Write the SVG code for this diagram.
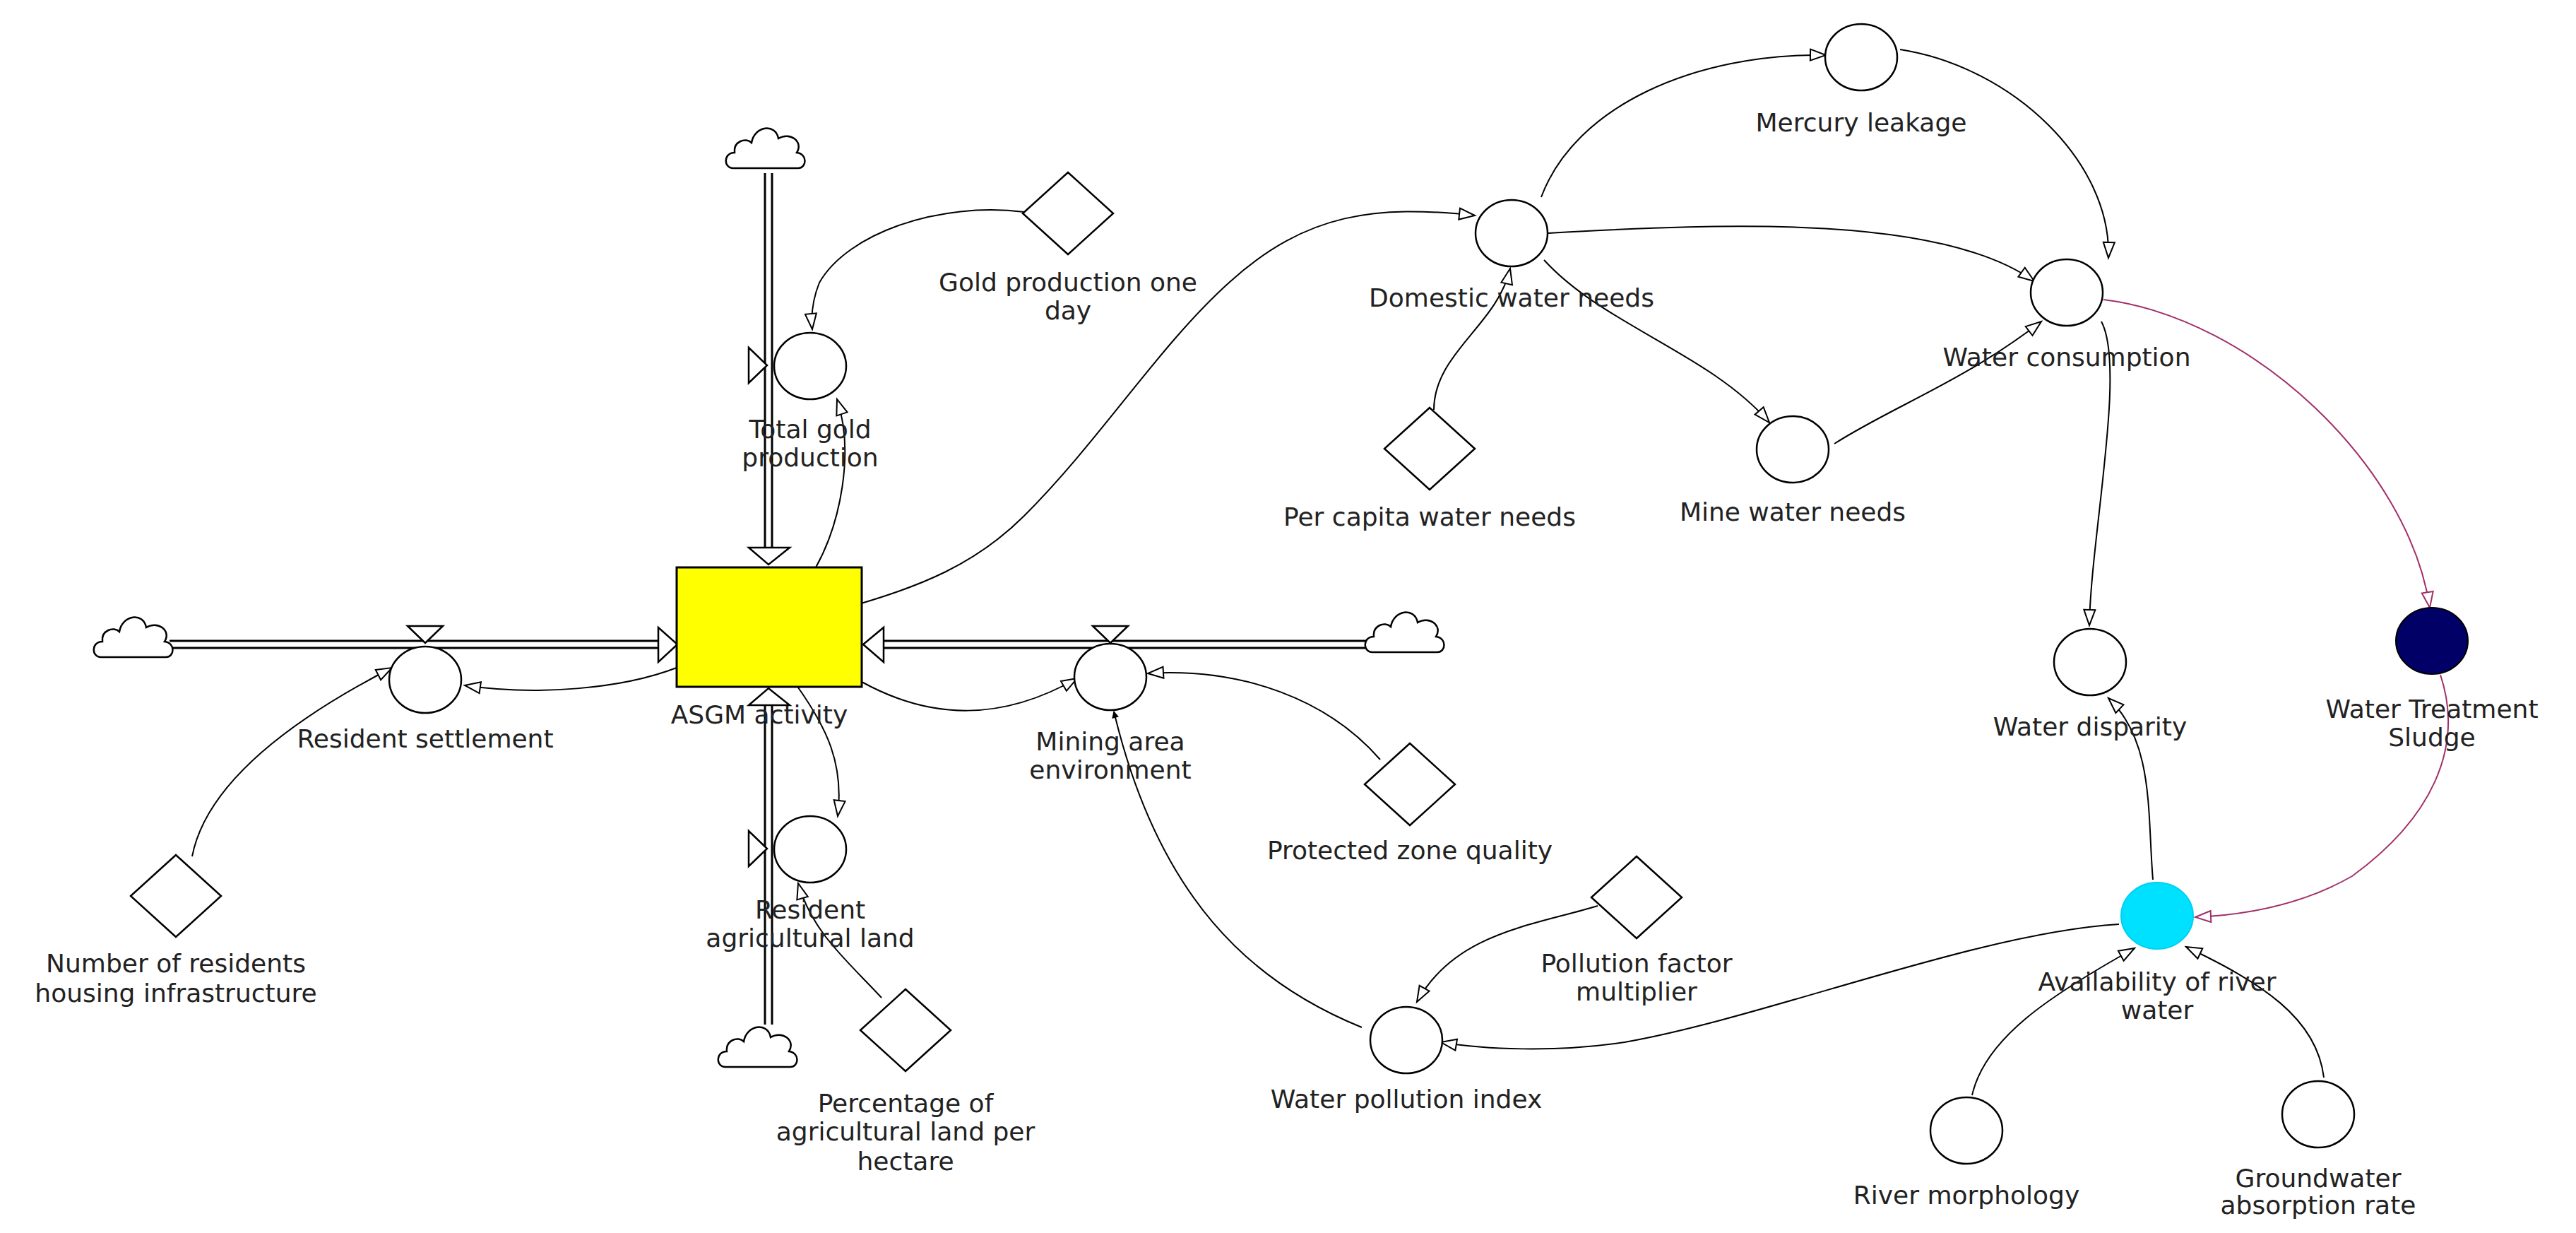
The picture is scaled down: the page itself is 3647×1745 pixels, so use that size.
<svg xmlns="http://www.w3.org/2000/svg" width="3647" height="1745" viewBox="0 0 3647 1745">
<style>
text{font-family:"DejaVu Sans","Verdana",sans-serif;font-size:36px;fill:#222;text-anchor:middle}
.aux{fill:#fff;stroke:#000;stroke-width:2.5}
.con{fill:none;stroke:#000;stroke-width:2}
.pk{fill:none;stroke:#a0306a;stroke-width:2}
.pipeo{stroke:#000;stroke-width:13;fill:none}
.pipei{stroke:#fff;stroke-width:7;fill:none}
.tri{fill:#fff;stroke:#000;stroke-width:2.5}
</style>
<defs>
<marker id="a" markerUnits="userSpaceOnUse" markerWidth="30" markerHeight="24" refX="24" refY="10" orient="auto"><path d="M2,2 L24,10 L2,18 Z" fill="#fff" stroke="#000" stroke-width="2"/></marker>
<marker id="ap" markerUnits="userSpaceOnUse" markerWidth="30" markerHeight="24" refX="24" refY="10" orient="auto"><path d="M2,2 L24,10 L2,18 Z" fill="#fff" stroke="#a0306a" stroke-width="2"/></marker>
<marker id="f" markerUnits="userSpaceOnUse" markerWidth="16" markerHeight="16" refX="10" refY="7" orient="auto"><path d="M1,2 L11,7 L1,12 Z" fill="#000"/></marker>
<symbol id="cloud" viewBox="-60 -40 120 75" overflow="visible"><path d="M-48,28 C-62,28 -62,6 -46,6 C-48,-10 -30,-16 -22,-8 C-18,-32 12,-36 16,-14 C32,-24 52,-10 42,6 C58,8 56,28 44,28 Z" fill="#fff" stroke="#000" stroke-width="2.5"/></symbol>
</defs>

<g id="flows">
<path class="pipeo" d="M1088,245 V780 M240,912 H935 M1955,912 H1250 M1088,1450 V995"/>
<path class="pipei" d="M1088,245 V780 M240,912 H935 M1955,912 H1250 M1088,1450 V995"/>
<path class="tri" d="M1060,775 L1118,775 L1088,799 Z"/>
<path class="tri" d="M932,888 L932,937 L959,912 Z"/>
<path class="tri" d="M1251,888 L1251,937 L1222,912 Z"/>
<path class="tri" d="M1060,998 L1118,998 L1088,974 Z"/>
<path class="tri" d="M1060,492 L1060,542 L1086,517 Z"/>
<path class="tri" d="M1060,1176 L1060,1226 L1086,1201 Z"/>
<path class="tri" d="M577,886 L627,886 L602,910 Z"/>
<path class="tri" d="M1547,886 L1597,886 L1572,910 Z"/>
</g>

<g id="connectors">
<path class="con" marker-end="url(#a)" d="M1450,300 C1330,285 1200,330 1160,400 C1150,425 1148,445 1150,466"/>
<path class="con" marker-end="url(#a)" d="M1155,803 C1190,740 1210,640 1185,565"/>
<path class="con" marker-end="url(#a)" d="M1219,854 C1300,830 1380,800 1450,730 C1560,620 1640,490 1740,400 C1850,300 1950,290 2088,305"/>
<path class="con" marker-end="url(#a)" d="M958,945 C880,975 760,985 658,970"/>
<path class="con" marker-end="url(#a)" d="M272,1212 C290,1120 390,1030 555,945"/>
<path class="con" marker-end="url(#a)" d="M1220,965 C1320,1020 1420,1020 1525,960"/>
<path class="con" marker-end="url(#a)" d="M1954,1075 C1880,990 1760,945 1625,953"/>
<path class="con" marker-end="url(#f)" d="M1928,1454 C1770,1390 1640,1270 1577,1007"/>
<path class="con" marker-end="url(#a)" d="M1130,973 C1170,1030 1195,1080 1186,1155"/>
<path class="con" marker-end="url(#a)" d="M1248,1412 C1200,1360 1150,1320 1130,1250"/>
<path class="con" marker-end="url(#a)" d="M2182,279 C2230,150 2400,75 2585,78"/>
<path class="con" marker-end="url(#a)" d="M2690,70 C2850,95 2990,230 2985,365"/>
<path class="con" marker-end="url(#a)" d="M2192,330 C2450,315 2750,305 2880,398"/>
<path class="con" marker-end="url(#a)" d="M2186,368 C2270,460 2420,500 2505,598"/>
<path class="con" marker-end="url(#a)" d="M2030,580 C2030,500 2120,460 2138,380"/>
<path class="con" marker-end="url(#a)" d="M2597,628 C2680,575 2780,540 2890,455"/>
<path class="con" marker-end="url(#a)" d="M2975,455 C3010,520 2960,760 2958,885"/>
<path class="pk" marker-end="url(#ap)" d="M2978,424 C3190,450 3410,660 3440,860"/>
<path class="pk" marker-end="url(#ap)" d="M3455,955 C3490,1060 3440,1160 3330,1240 C3260,1280 3180,1295 3108,1298"/>
<path class="con" marker-end="url(#a)" d="M3048,1245 C3040,1150 3050,1050 2985,988"/>
<path class="con" marker-end="url(#a)" d="M3000,1308 C2800,1320 2500,1440 2300,1475 C2200,1490 2100,1485 2040,1475"/>
<path class="con" marker-end="url(#a)" d="M2262,1282 C2170,1310 2060,1320 2006,1418"/>
<path class="con" marker-end="url(#a)" d="M2792,1550 C2810,1470 2900,1410 3022,1342"/>
<path class="con" marker-end="url(#a)" d="M3290,1525 C3280,1440 3200,1390 3095,1340"/>
</g>

<use href="#cloud" x="1026" y="170" width="120" height="75"/>
<use href="#cloud" x="131" y="862" width="120" height="75"/>
<use href="#cloud" x="1931" y="855" width="120" height="75"/>
<use href="#cloud" x="1015" y="1442" width="120" height="75"/>

<g id="asgm"><rect x="958" y="803" width="262" height="169" fill="#ff0" stroke="#000" stroke-width="3"/><text x="1075" y="1024">ASGM activity</text></g>
<g id="totalgold"><ellipse class="aux" cx="1147" cy="518" rx="51" ry="47"/><text x="1147" y="620">Total gold</text><text x="1147" y="660">production</text></g>
<g id="goldday"><path class="aux" d="M1512,244 L1576,302 L1512,360 L1448,302 Z"/><text x="1512" y="412">Gold production one</text><text x="1512" y="452">day</text></g>
<g id="resset"><ellipse class="aux" cx="602" cy="962" rx="51" ry="47"/><text x="602" y="1058">Resident settlement</text></g>
<g id="numres"><path class="aux" d="M249,1210 L313,1268 L249,1326 L185,1268 Z"/><text x="249" y="1376">Number of residents</text><text x="249" y="1418">housing infrastructure</text></g>
<g id="resag"><ellipse class="aux" cx="1147" cy="1202" rx="51" ry="47"/><text x="1147" y="1300">Resident</text><text x="1147" y="1340">agricultural land</text></g>
<g id="pct"><path class="aux" d="M1282,1400 L1346,1458 L1282,1516 L1218,1458 Z"/><text x="1282" y="1574">Percentage of</text><text x="1282" y="1614">agricultural land per</text><text x="1282" y="1656">hectare</text></g>
<g id="mining"><ellipse class="aux" cx="1572" cy="958" rx="51" ry="47"/><text x="1572" y="1062">Mining area</text><text x="1572" y="1102">environment</text></g>
<g id="protected"><path class="aux" d="M1996,1052 L2060,1110 L1996,1168 L1932,1110 Z"/><text x="1996" y="1216">Protected zone quality</text></g>
<g id="wpi"><ellipse class="aux" cx="1991" cy="1472" rx="51" ry="47"/><text x="1991" y="1568">Water pollution index</text></g>
<g id="pfm"><path class="aux" d="M2317,1212 L2381,1270 L2317,1328 L2253,1270 Z"/><text x="2317" y="1376">Pollution factor</text><text x="2317" y="1416">multiplier</text></g>
<g id="domestic"><ellipse class="aux" cx="2140" cy="330" rx="51" ry="47"/><text x="2140" y="434">Domestic water needs</text></g>
<g id="percapita"><path class="aux" d="M2024,577 L2088,635 L2024,693 L1960,635 Z"/><text x="2024" y="744">Per capita water needs</text></g>
<g id="mercury"><ellipse class="aux" cx="2635" cy="81" rx="51" ry="47"/><text x="2635" y="186">Mercury leakage</text></g>
<g id="consumption"><ellipse class="aux" cx="2926" cy="414" rx="51" ry="47"/><text x="2926" y="518">Water consumption</text></g>
<g id="mine"><ellipse class="aux" cx="2538" cy="636" rx="51" ry="47"/><text x="2538" y="737">Mine water needs</text></g>
<g id="disparity"><ellipse class="aux" cx="2959" cy="937" rx="51" ry="47"/><text x="2959" y="1041">Water disparity</text></g>
<g id="sludge"><ellipse cx="3443" cy="907" rx="51" ry="47" fill="#000066" stroke="#000" stroke-width="2"/><text x="3443" y="1016">Water Treatment</text><text x="3443" y="1056">Sludge</text></g>
<g id="availability"><ellipse cx="3054" cy="1296" rx="51" ry="47" fill="#00e0ff" stroke="#00d0f0" stroke-width="2"/><text x="3054" y="1402">Availability of river</text><text x="3054" y="1442">water</text></g>
<g id="morphology"><ellipse class="aux" cx="2784" cy="1600" rx="51" ry="47"/><text x="2784" y="1704">River morphology</text></g>
<g id="groundwater"><ellipse class="aux" cx="3282" cy="1577" rx="51" ry="47"/><text x="3282" y="1680">Groundwater</text><text x="3282" y="1718">absorption rate</text></g>
</svg>
